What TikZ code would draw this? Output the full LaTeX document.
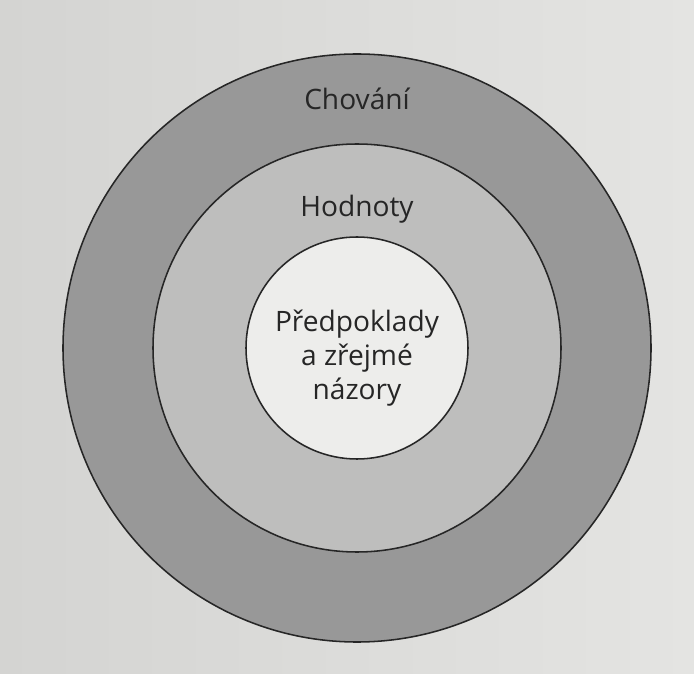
\documentclass[tikz,border=0pt]{standalone}
\usepackage{fontspec}
\setmainfont{Open Sans}
\usepackage{xcolor}
\usetikzlibrary{positioning}

\definecolor{paperleft}{RGB}{212,212,210}
\definecolor{paperright}{RGB}{228,228,226}
\definecolor{outerring}{RGB}{152,152,152}
\definecolor{middlering}{RGB}{190,190,189}
\definecolor{innercore}{RGB}{237,237,235}
\definecolor{inktext}{RGB}{38,38,38}

\begin{document}
\begin{tikzpicture}[every node/.style={font=\fontsize{20}{24}\selectfont, text=inktext}, align=center]
      % Styles
      \tikzset{
        ring/.style={circle, draw=black!85, line width=1.1pt, inner sep=0pt, outer sep=0pt},
        layer/.style={anchor=center}
      }

      % Paper
      \fill [left color=paperleft, right color=paperright] (0,0) rectangle (17.35,16.825);
      \useasboundingbox (0,0) rectangle (17.35,16.825);

      % Rings
      \node (behaviour) [ring, fill=outerring, minimum size=14.7cm] at (8.925,8.125) {};
      \node (values) [ring, fill=middlering, minimum size=10.2cm] at (8.925,8.125) {};
      \node (core) [ring, fill=innercore, minimum size=5.55cm] at (8.925,8.125) {};

      % Labels
      \node (behaviourlabel) [below=1.125cm of behaviour.north, layer] {Chování};
      \node (valueslabel) [below=1.625cm of values.north, layer] {Hodnoty};
      \node (corelabel) [below=0.25cm of core.center, layer] {Předpoklady\\a zřejmé\\názory};
    \end{tikzpicture}
\end{document}
